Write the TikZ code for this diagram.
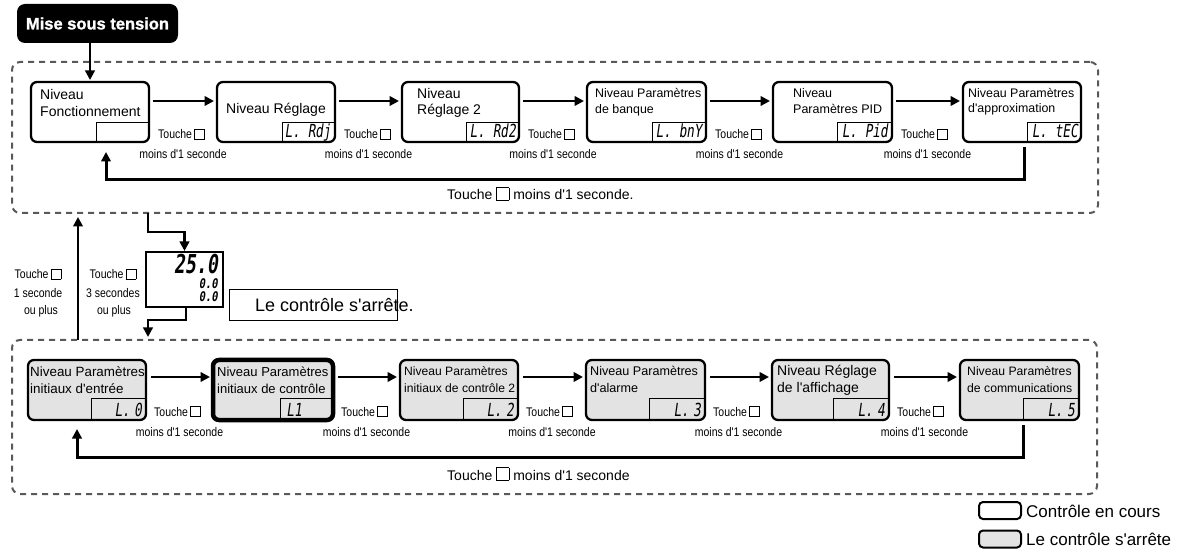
\documentclass[tikz,border=0pt]{standalone}
\usepackage{fontspec}
\setmainfont{Liberation Sans}[Ligatures=TeXOff]
\newfontfamily\nf[FakeStretch=0.84,Ligatures=TeXOff]{Liberation Sans}
\newfontfamily\hb[FakeBold=1.3]{Liberation Sans Bold}
\newfontfamily\seg[FakeSlant=0.2]{DejaVu Sans Mono}
\usetikzlibrary{arrows.meta,calc}
\newcommand{\fsz}[1]{\fontsize{#1}{#1}\selectfont}
\newcommand{\sqr}[1]{{\setlength{\fboxsep}{0pt}\setlength{\fboxrule}{0.6pt}\fbox{\rule{0pt}{#1}\rule{#1}{0pt}}}}
\newcommand{\tq}{Touche\,\sqr{9.5pt}}
\tikzset{
  lvl/.style={draw, line width=2.3pt, rounded corners=6pt, inner sep=0pt, outer sep=0pt, anchor=north west, minimum height=60pt},
  off/.style={lvl, fill=gray!22},
  tx/.style={inner sep=0pt, anchor=base west},
  tk/.style={inner sep=0pt, anchor=base west, font=\nf\fsz{12.5}},
  mn/.style={inner sep=0pt, anchor=base, font=\nf\fsz{12.5}},
  sg/.style={inner sep=0pt, anchor=base east, font=\seg\fsz{15}},
  dl/.style={line width=0.8pt},
  arr/.style={line width=2.7pt, -{Triangle[length=9.5pt,width=9.5pt]}},
  frame/.style={draw=black!65, line width=2pt, dash pattern=on 6pt off 5pt, rounded corners=8pt, inner sep=0pt, outer sep=0pt, anchor=north west}
}
\begin{document}
\begin{tikzpicture}[x=1pt,y=1pt]
\useasboundingbox (0,0) rectangle (1192,-553);
% frames
\node[frame, minimum width=1086pt, minimum height=151pt] (F1) at (12,-62) {};
\node[frame, minimum width=1085pt, minimum height=154pt] (F2) at (12,-340) {};
% power on
\node[fill=black, rounded corners=8pt, minimum width=161pt, minimum height=39pt, inner sep=0pt, outer sep=0pt, text=white, font=\hb\fsz{16.5}] (MS) at (97.5,-23.5) {Mise sous tension};
% top row
\node[lvl, minimum width=118pt] (t1) at (31,-82) {};
\node[lvl, minimum width=118pt] (t2) at (217,-82) {};
\node[lvl, minimum width=117pt] (t3) at (402,-82) {};
\node[lvl, minimum width=119pt] (t4) at (587,-82) {};
\node[lvl, minimum width=119pt] (t5) at (773,-82) {};
\node[lvl, minimum width=118pt] (t6) at (963,-82) {};
\foreach \n/\w in {t1/53,t2/53,t3/53,t4/54,t5/55,t6/54}{
  \draw[dl] ([xshift=-\w pt]\n.south east) |- ([yshift=20pt]\n.south east);
}
\node[tx, font=\fsz{14}] (t1a) at (40,-100) {Niveau};
\node[tx, font=\fsz{14}] (t1b) at (40,-117) {Fonctionnement};
\node[tx, font=\fsz{14}] (t2a) at (226,-114) {Niveau Réglage};
\node[tx, font=\fsz{14}] (t3a) at (417,-99) {Niveau};
\node[tx, font=\fsz{14}] (t3b) at (417,-115) {Réglage 2};
\node[tx, font=\fsz{12.4}] (t4a) at (595,-98) {Niveau Paramètres};
\node[tx, font=\fsz{12.4}] (t4b) at (595,-114) {de banque};
\node[tx, font=\fsz{12.5}] (t5a) at (793,-98) {Niveau};
\node[tx, font=\fsz{12.5}] (t5b) at (793,-114) {Paramètres PID};
\node[tx, font=\fsz{12.4}] (t6a) at (968,-98) {Niveau Paramètres};
\node[tx, font=\fsz{12.4}] (t6b) at (968,-113) {d'approximation};
\node[sg] (s2) at ([shift={(-4pt,4pt)}]t2.south east) {\scalebox{0.85}[1.2]{L. Rdj}};
\node[sg] (s3) at ([shift={(-3pt,4pt)}]t3.south east) {\scalebox{0.85}[1.2]{L. Rd2}};
\node[sg] (s4) at ([shift={(-4pt,4pt)}]t4.south east) {\scalebox{0.85}[1.2]{L. bnY}};
\node[sg] (s5) at ([shift={(-4pt,4pt)}]t5.south east) {\scalebox{0.85}[1.2]{L. Pid}};
\node[sg] (s6) at ([shift={(-3pt,4pt)}]t6.south east) {\scalebox{0.85}[1.2]{L. tEC}};
% top arrows
\draw[arr] (MS.south -| t1.north) -- ([yshift=2pt]t1.north);
\foreach \a/\b in {t1/t2,t2/t3,t3/t4,t4/t5,t5/t6}{
  \draw[arr] ([shift={(4pt,11pt)}]\a.east) -- ([shift={(-3pt,11pt)}]\b.west);
}
% top labels
\foreach \a/\b/\i in {t1/t2/1,t2/t3/2,t3/t4/3,t4/t5/4,t5/t6/5}{
  \node[tk] (tt\i) at ([shift={(9pt,-27pt)}]\a.east) {\tq};
  \node[mn] (tm\i) at ($(\a.east)!0.5!(\b.west)+(0pt,-47pt)$) {moins d'1 seconde};
}
\draw[arr, line width=3pt] ([shift={(2pt,-5pt)}]t6.south) -- ++(0pt,-33pt) -| ([shift={(16pt,-10pt)}]t1.south);
\node[tx, font=\fsz{14}] (rt) at (447,-200) {Touche \sqr{12pt} moins d'1 seconde.};
% middle
\coordinate (u1) at (78,0);
\coordinate (d1) at (148,0);
\coordinate (m1) at (0,-232);
\coordinate (m2) at (0,-320);
\draw[arr] (u1 |- F2.north) -- ([yshift=-4pt]u1 |- F1.south);
\node[mn] (l1) at (38,-279) {\tq};
\node[mn] (l2) at (38,-298) {1 seconde};
\node[mn] (l3) at (41,-315) {ou plus};
\node[mn] (l4) at (113,-279) {\tq};
\node[mn] (l5) at (113,-298) {3 secondes};
\node[mn] (l6) at (114,-315) {ou plus};
\node[draw, line width=1.2pt, minimum width=77pt, minimum height=55pt, inner sep=0pt, outer sep=0pt, anchor=north west] (pv) at (146,-252) {};
\node[sg, font=\seg\bfseries\fsz{26}] (pv1) at (218,-274) {\scalebox{0.7}[1]{25.0}};
\node[sg, font=\seg\bfseries\fsz{14}] (pv2) at (218,-289) {\scalebox{0.75}[0.95]{0.0}};
\node[sg, font=\seg\bfseries\fsz{14}] (pv3) at (218,-302) {\scalebox{0.75}[0.95]{0.0}};
\draw[arr] (d1 |- F1.south) -- (d1 |- m1) -| ([yshift=1pt]pv.north);
\draw[arr] ([xshift=1.5pt]pv.south) -- ([xshift=1.5pt]pv.south |- m2) -| ([yshift=3pt]d1 |- F2.north);
\node[draw, line width=1pt, minimum width=168pt, minimum height=31pt, inner sep=0pt, outer sep=0pt, anchor=north west] (lc) at (229,-290) {};
\node[tx, font=\fsz{18}] (lct) at (255,-312) {Le contrôle s'arrête.};
% bottom row
\node[off, minimum width=118pt] (b1) at (28,-360) {};
\node[off, minimum width=120pt, line width=4.5pt] (b2) at (213,-360) {};
\node[off, minimum width=118pt] (b3) at (400,-360) {};
\node[off, minimum width=119pt] (b4) at (586,-360) {};
\node[off, minimum width=117pt] (b5) at (772,-360) {};
\node[off, minimum width=119pt] (b6) at (960,-360) {};
\foreach \n/\w in {b1/55,b2/53,b3/55,b4/56,b5/56,b6/56}{
  \draw[dl] ([xshift=-\w pt]\n.south east) |- ([yshift=22pt]\n.south east);
}
\node[tx, font=\fsz{13.4}] (b1a) at (30,-377) {Niveau Paramètres};
\node[tx, font=\fsz{13.4}] (b1b) at (30,-393) {initiaux d'entrée};
\node[tx, font=\fsz{13}] (b2a) at (217,-377) {Niveau Paramètres};
\node[tx, font=\fsz{13}] (b2b) at (217,-393) {initiaux de contrôle};
\node[tx, font=\fsz{12.1}] (b3a) at (404,-376) {Niveau Paramètres};
\node[tx, font=\fsz{12.1}] (b3b) at (404,-392) {initiaux de contrôle 2};
\node[tx, font=\fsz{12.6}] (b4a) at (590,-376) {Niveau Paramètres};
\node[tx, font=\fsz{12.6}] (b4b) at (590,-392) {d'alarme};
\node[tx, font=\fsz{14}] (b5a) at (777,-376) {Niveau Réglage};
\node[tx, font=\fsz{14}] (b5b) at (777,-392) {de l'affichage};
\node[tx, font=\fsz{12.2}] (b6a) at (967,-376) {Niveau Paramètres};
\node[tx, font=\fsz{12.2}] (b6b) at (967,-392) {de communications};
\node[sg] (c1) at ([shift={(-4pt,4pt)}]b1.south east) {\scalebox{0.85}[1.2]{L.\,\,0}};
\node[sg] (c2) at ([shift={(-31pt,4pt)}]b2.south east) {\scalebox{0.85}[1.2]{L1}};
\node[sg] (c3) at ([shift={(-4pt,4pt)}]b3.south east) {\scalebox{0.85}[1.2]{L.\,\,2}};
\node[sg] (c4) at ([shift={(-4pt,4pt)}]b4.south east) {\scalebox{0.85}[1.2]{L.\,\,3}};
\node[sg] (c5) at ([shift={(-4pt,4pt)}]b5.south east) {\scalebox{0.85}[1.2]{L.\,\,4}};
\node[sg] (c6) at ([shift={(-4pt,4pt)}]b6.south east) {\scalebox{0.85}[1.2]{L.\,\,5}};
\foreach \a/\b in {b1/b2,b2/b3,b3/b4,b4/b5,b5/b6}{
  \draw[arr] ([shift={(5pt,13pt)}]\a.east) -- ([shift={(-3pt,13pt)}]\b.west);
}
\foreach \a/\b/\i in {b1/b2/1,b2/b3/2,b3/b4/3,b4/b5/4,b5/b6/5}{
  \node[tk] (bt\i) at ([shift={(8pt,-26pt)}]\a.east) {\tq};
  \node[mn] (bm\i) at ($(\a.east)!0.5!(\b.west)+(0pt,-46pt)$) {moins d'1 seconde};
}
\draw[arr, line width=3pt] ([shift={(3.5pt,-5pt)}]b6.south) -- ++(0pt,-32pt) -| ([shift={(-10pt,-9pt)}]b1.south);
\node[tx, font=\fsz{14}] (rb) at (447,-480) {Touche \sqr{12pt} moins d'1 seconde};
% legend
\node[draw, line width=2pt, rounded corners=4pt, minimum width=42pt, minimum height=17pt, inner sep=0pt] (g1) at (1000,-510.5) {};
\node[draw, fill=gray!22, line width=2pt, rounded corners=4pt, minimum width=42pt, minimum height=17pt, inner sep=0pt] (g2) at (1000,-539) {};
\node[tx, font=\fsz{17}] (g1t) at (1026,-517) {Contrôle en cours};
\node[tx, font=\fsz{17}] (g2t) at (1026,-545) {Le contrôle s'arrête};
\end{tikzpicture}
\end{document}
